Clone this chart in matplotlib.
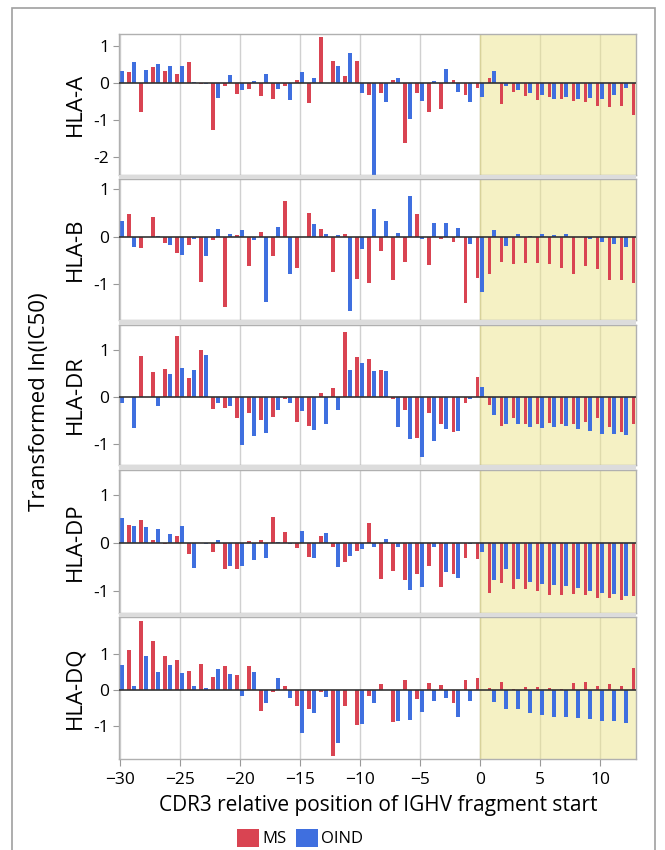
import numpy as np
import matplotlib
matplotlib.use('Agg')
import matplotlib.pyplot as plt
from matplotlib.patches import Rectangle

plt.rcParams['font.family'] = ['Open Sans', 'DejaVu Sans']

# positions -30 .. 13
pos = np.arange(-30, 14)
nan = np.nan

panels = ['HLA-A', 'HLA-B', 'HLA-DR', 'HLA-DP', 'HLA-DQ']

a_ms = [nan, 0.29, -0.77, 0.43, 0.32, 0.23, 0.56, -0.04, -1.28, -0.07, -0.30, -0.16, -0.34, -0.43, -0.09,
        0.07, -0.54, 1.24, 0.59, 0.20, 0.60, -0.33, -0.27, 0.07, -1.62, -0.27, -0.77, -0.69, 0.08, -0.32,
        -0.14, 0.14, -0.58, -0.24, -0.36, -0.47, -0.39, -0.44, -0.49, -0.50, -0.62, -0.65, -0.61, -0.85]
a_oind = [0.32, 0.56, 0.34, 0.52, 0.47, 0.45, 0.03, -0.02, -0.41, 0.22, -0.18, 0.06, 0.24, -0.16, -0.47,
          0.30, 0.14, 0.0, 0.45, 0.81, -0.27, -2.55, -0.51, 0.14, -0.97, -0.48, 0.06, 0.38, -0.25, -0.52,
          -0.38, 0.32, -0.09, -0.18, -0.27, -0.32, -0.44, -0.39, -0.43, -0.41, -0.44, -0.32, -0.14, nan]

b_ms = [-0.56, 0.48, -0.23, 0.41, -0.13, -0.34, -0.18, -0.95, -0.08, -1.47, 0.04, -0.61, 0.10, -0.41, 0.74,
        -0.65, 0.50, 0.15, -0.75, 0.06, -0.88, -0.98, -0.30, -0.91, -0.53, 0.47, -0.60, -0.06, -0.11, -1.39,
        -0.86, -0.79, -0.54, -0.58, -0.56, -0.56, -0.57, -0.65, -0.79, -0.62, -0.67, -0.90, -0.90, -0.98]
b_oind = [0.33, -0.21, 0.0, 0.01, -0.18, -0.38, -0.06, -0.41, 0.15, 0.06, 0.13, -0.08, -1.38, 0.21, -0.79,
          -0.01, 0.26, 0.05, 0.03, -1.56, -0.25, 0.57, 0.33, 0.07, 0.86, -0.04, 0.29, 0.29, 0.18, -0.16,
          -1.16, 0.13, -0.19, 0.05, 0.02, 0.05, 0.03, 0.05, 0.0, -0.04, -0.11, -0.15, -0.22, nan]

dr_ms = [0.46, 0.0, 0.87, 0.54, 0.60, 1.29, 0.41, 0.99, -0.26, -0.23, -0.44, -0.34, -0.50, -0.43, -0.04,
         -0.53, -0.62, 0.09, 0.19, 1.38, 0.85, 0.80, 0.57, -0.04, -0.28, -0.87, -0.35, -0.58, -0.75, -0.12,
         0.43, -0.18, -0.62, -0.45, -0.57, -0.57, -0.55, -0.58, -0.57, -0.53, -0.45, -0.65, -0.74, -0.57]
dr_oind = [-0.14, -0.67, 0.0, -0.19, 0.48, 0.62, 0.57, 0.89, -0.13, -0.20, -1.03, -0.83, -0.77, -0.28, -0.14,
           -0.30, -0.70, -0.57, -0.27, 0.57, 0.73, 0.56, 0.55, -0.64, -0.89, -1.28, -0.94, -0.68, -0.72, -0.05,
           0.21, -0.38, -0.58, -0.58, -0.64, -0.66, -0.65, -0.62, -0.69, -0.73, -0.78, -0.80, -0.82, nan]

dp_ms = [0.45, 0.36, 0.48, 0.05, -0.03, 0.13, -0.24, 0.0, -0.20, -0.54, -0.55, 0.04, 0.05, 0.53, 0.22,
         -0.12, -0.29, 0.13, -0.10, -0.40, -0.17, 0.41, -0.75, -0.59, -0.78, -0.66, -0.48, -0.92, -0.66, -0.31,
         -0.35, -1.05, -0.85, -0.96, -0.96, -1.01, -1.10, -1.10, -1.07, -1.09, -1.15, -1.15, -1.20, -1.12]
dp_oind = [0.51, 0.34, 0.32, 0.28, 0.18, 0.34, -0.52, -0.02, 0.05, -0.48, -0.49, -0.37, -0.31, 0.01, -0.03,
           0.24, -0.31, 0.20, -0.50, -0.27, -0.14, -0.10, 0.08, -0.10, -0.98, -0.93, -0.10, -0.62, -0.73, -0.03,
           -0.20, -0.79, -0.56, -0.75, -0.82, -0.87, -0.89, -0.91, -0.94, -1.01, -1.06, -1.08, -1.12, nan]

dq_ms = [1.56, 1.11, 1.92, 1.36, 0.96, 0.85, 0.54, 0.72, 0.37, 0.67, 0.43, 0.68, -0.56, -0.05, 0.13,
         -0.43, -0.51, -0.04, -1.82, -0.44, -0.97, -0.16, 0.18, -0.88, 0.29, -0.25, 0.20, 0.15, -0.34, 0.29,
         0.33, 0.07, 0.24, 0.03, 0.09, 0.08, 0.06, 0.05, 0.19, 0.23, 0.12, 0.17, 0.11, 0.61]
dq_oind = [0.69, 0.12, 0.95, 0.52, 0.69, 0.47, 0.11, 0.06, 0.59, 0.45, -0.17, 0.51, -0.34, 0.35, -0.20,
           -1.18, -0.62, -0.18, -1.47, 0.0, -0.93, -0.34, 0.0, -0.85, -0.82, -0.59, -0.29, -0.20, -0.73, -0.29,
           0.0, -0.33, -0.53, -0.53, -0.64, -0.67, -0.74, -0.74, -0.76, -0.79, -0.84, -0.85, -0.90, nan]

ms_vals = [a_ms, b_ms, dr_ms, dp_ms, dq_ms]
oind_vals = [a_oind, b_oind, dr_oind, dp_oind, dq_oind]
ylims = [(-2.48, 1.32), (-1.75, 1.21), (-1.45, 1.53), (-1.47, 1.52), (-1.9, 2.03)]
yticks = [[1, 0, -1, -2], [1, 0, -1], [1, 0, -1], [1, 0, -1], [1, 0, -1]]

red = '#d94452'
blue = '#3f6fdf'

W, H = 665, 850
fig = plt.figure(figsize=(W / 100, H / 100), dpi=100)

# outer gray frame
fig.patches.append(Rectangle((12 / W, -0.01), (655 - 12) / W, 1 - 8 / H + 0.01,
                             transform=fig.transFigure, fill=False, ec='#a0a0a0', lw=1.2))

# panel extents in pixels (top, bottom)
rows = [(34, 175), (179, 320), (325, 465), (470, 613), (617, 759)]
x0, x1 = 119, 636

# gray separators between panels
for i in range(len(rows) - 1):
    top = rows[i][1]
    bot = rows[i + 1][0]
    fig.patches.append(Rectangle((x0 / W, 1 - bot / H), (x1 - x0) / W, (bot - top) / H,
                                 transform=fig.transFigure, color='#dcdcdc', lw=0))

axes = []
for i, (t, b) in enumerate(rows):
    ax = fig.add_axes([x0 / W, 1 - b / H, (x1 - x0) / W, (b - t) / H])
    axes.append(ax)
    ms = np.array(ms_vals[i], dtype=float)
    oi = np.array(oind_vals[i], dtype=float)
    ax.set_axisbelow(True)
    ax.grid(axis='x', color='#d0d0d0', lw=1)
    ax.axvspan(0, 13.5, color='#ece58a', alpha=0.5, lw=0, zorder=1)
    ax.axvline(0, color='#d8d29a', lw=1, zorder=1)
    ax.bar(pos - 0.24, ms, width=0.32, color=red, zorder=2, label='MS')
    ax.bar(pos + 0.16, oi, width=0.32, color=blue, zorder=2, label='OIND')
    ax.axhline(0, color='#333333', lw=1.2, zorder=3)
    ax.set_xlim(-30.1, 12.97)
    ax.set_ylim(*ylims[i])
    ax.set_yticks(yticks[i])
    ax.set_yticklabels([str(v) for v in yticks[i]])
    ax.set_xticks(np.arange(-30, 11, 5))
    ax.tick_params(axis='y', labelsize=12.5, color='#999999', length=4, pad=3)
    for s in ax.spines.values():
        s.set_color('#b0b0b0')
        s.set_linewidth(1)
    if i < len(rows) - 1:
        ax.tick_params(axis='x', labelbottom=False, length=0)
    else:
        ax.tick_params(axis='x', labelsize=12.5, color='#999999', length=5, pad=4)
    fig.text(75 / W, 1 - (t + b) / 2 / H, panels[i], rotation=90, ha='center', va='center', fontsize=16)

fig.text(40 / W, 1 - 402 / H, 'Transformed ln(IC50)', rotation=90, ha='center', va='center', fontsize=16)
fig.text(378 / W, 1 - 806 / H, 'CDR3 relative position of IGHV fragment start', ha='center', va='center',
         fontsize=15)

handles, labels = axes[-1].get_legend_handles_labels()
fig.legend(handles, labels, loc='center', bbox_to_anchor=(300 / W, 1 - 838 / H), ncol=2, frameon=False,
           fontsize=12, handlelength=1.3, handleheight=1.3, handletextpad=0.2, columnspacing=0.6,
           borderaxespad=0)

fig.savefig('out.png', dpi=100)
